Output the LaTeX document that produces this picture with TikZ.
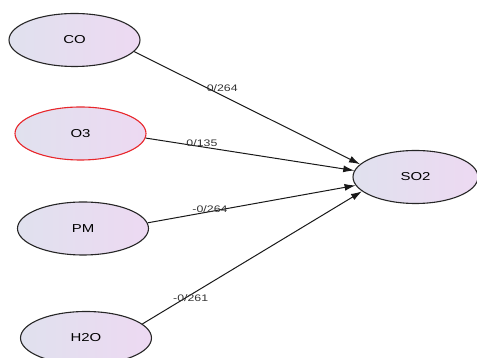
\documentclass[tikz,border=0pt]{standalone}
\usepackage{fontspec}
\newfontfamily\diagfont[FakeStretch=1.3]{Liberation Sans}
\usetikzlibrary{shapes.geometric,arrows.meta}
\definecolor{varleft}{HTML}{E0E1EE}
\definecolor{varright}{HTML}{EDD9F2}
\definecolor{varred}{HTML}{E8262B}
\tikzset{
  var/.style={ellipse,draw=black!85,line width=1.1pt,left color=varleft,right color=varright,
    minimum width=131pt,minimum height=53pt,inner sep=0pt,
    font=\diagfont\fontsize{11.5}{13}\selectfont},
  coefarrow/.style={line width=1pt,draw=black!90,-{Latex[length=11pt,width=7pt]}},
  coeflabel/.style={font=\diagfont\fontsize{9.5}{11}\selectfont,text=black!80,inner sep=0pt}
}
\begin{document}
\begin{tikzpicture}[x=1pt,y=1pt]
\useasboundingbox (0,0) rectangle (477,358);

%exogenous
\node[var] (CO) at (74.5,318) {CO};
\node[var,draw=varred] (O3) at (80.5,224.5) {O3};
\node[var] (PM) at (83,129.5) {PM};
\node[var] (H2O) at (86,20) {H2O};

%endogenous
\node[var,minimum width=125pt] (SO2) at (415.5,181) {SO2};

%paths
\draw[coefarrow] (CO.-11) -- node[coeflabel,pos=0.39,yshift=7pt] {0/264} (SO2.167);
\draw[coefarrow] (O3.-4) -- node[coeflabel,pos=0.27,yshift=4pt] {0/135} (SO2.174);
\draw[coefarrow] (PM.5) -- node[coeflabel,pos=0.30,yshift=3pt] {-0/264} (SO2.-172);
\draw[coefarrow] (H2O.14) -- node[coeflabel,pos=0.22,yshift=-3.5pt] {-0/261} (SO2.-165);
\end{tikzpicture}
\end{document}
